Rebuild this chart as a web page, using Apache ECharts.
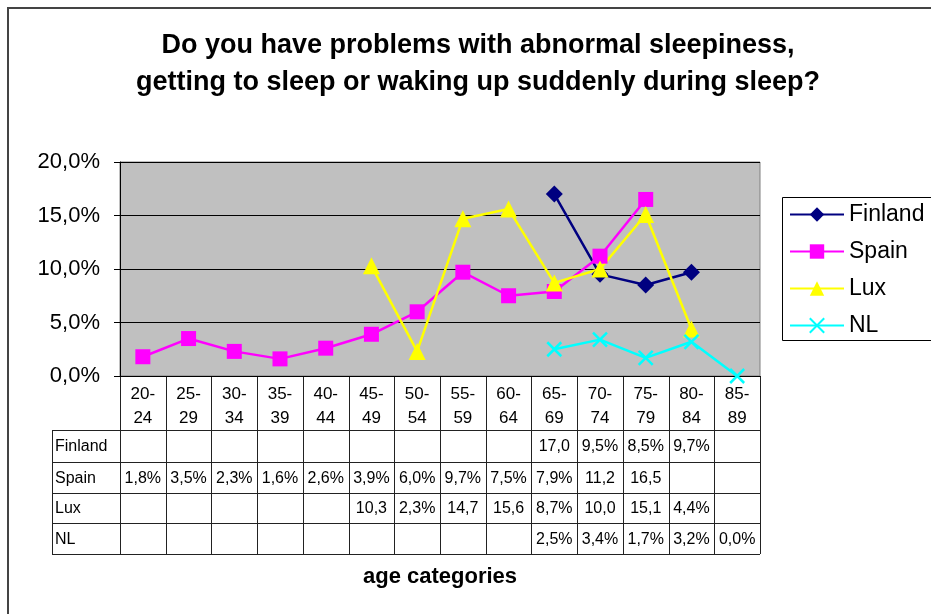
<!DOCTYPE html>
<html>
<head>
<meta charset="utf-8">
<script src="https://cdn.jsdelivr.net/npm/echarts@6/dist/echarts.min.js"></script>
<style>
  html, body { margin: 0; padding: 0; background: #fff; }
  #main { width: 931px; height: 614px; }
</style>
</head>
<body>
<div id="main"></div>
<script>
const categories = ['20-24', '25-29', '30-34', '35-39', '40-44', '45-49', '50-54',
  '55-59', '60-64', '65-69', '70-74', '75-79', '80-84', '85-89'];
const finland = [null, null, null, null, null, null, null, null, null, 17.0, 9.5, 8.5, 9.7, null];
const spain = [1.8, 3.5, 2.3, 1.6, 2.6, 3.9, 6.0, 9.7, 7.5, 7.9, 11.2, 16.5, null, null];
const lux = [null, null, null, null, null, 10.3, 2.3, 14.7, 15.6, 8.7, 10.0, 15.1, 4.4, null];
const nl = [null, null, null, null, null, null, null, null, null, 2.5, 3.4, 1.7, 3.2, 0.0];
const yTicks = [0, 5, 10, 15, 20];

const chartDom = document.getElementById('main');
const myChart = echarts.init(chartDom);

const font = 'Liberation Sans, Arial, sans-serif';

// table geometry (header row under the axis, then one row per series)
const tableTop = 376;
const headerBottom = 430;
const rowBottoms = [462, 493, 523, 554];
const labelLeft = 52;

const rows = [
  { name: 'Finland', data: finland },
  { name: 'Spain', data: spain },
  { name: 'Lux', data: lux },
  { name: 'NL', data: nl }
];

// Excel cuts the % off when the cell is too narrow
function cellText(v) {
  if (v == null) return '';
  const s = v.toFixed(1).replace('.', ',');
  return v >= 10 ? s : s + '%';
}

const crossPath = 'path://M0,0L10,10M10,0L0,10';

const option = {
  animation: false,
  backgroundColor: '#fff',
  textStyle: { fontFamily: font },
  title: {
    text: 'Do you have problems with abnormal sleepiness,\ngetting to sleep or waking up suddenly during sleep?',
    left: 473,
    textAlign: 'center',
    top: 22,
    textStyle: { fontSize: 27, fontWeight: 'bold', color: '#000', lineHeight: 37, fontFamily: font }
  },
  grid: {
    left: 120,
    top: 162,
    right: 171,
    bottom: 238,
    show: true,
    backgroundColor: '#C0C0C0',
    borderColor: '#808080',
    borderWidth: 1
  },
  legend: {
    orient: 'vertical',
    left: 789,
    top: 203,
    padding: 0,
    itemWidth: 54,
    itemHeight: 18,
    itemGap: 14,
    z: 10,
    textStyle: { fontSize: 23, color: '#000', lineHeight: 22, fontFamily: font },
    data: ['Finland', 'Spain', 'Lux', 'NL']
  },
  xAxis: {
    type: 'category',
    data: categories,
    boundaryGap: true,
    axisLine: { lineStyle: { color: '#000', width: 1 } },
    axisTick: { show: false },
    axisLabel: { show: false },
    splitLine: { show: false }
  },
  yAxis: {
    type: 'value',
    min: yTicks[0],
    max: yTicks[yTicks.length - 1],
    interval: 5,
    axisLine: { show: true, lineStyle: { color: '#000', width: 1 } },
    axisTick: { show: true, length: 6, lineStyle: { color: '#000' } },
    axisLabel: {
      fontSize: 22,
      color: '#000',
      margin: 20,
      fontFamily: font,
      formatter: v => v.toFixed(1).replace('.', ',') + '%'
    },
    splitLine: { show: true, lineStyle: { color: '#000', width: 1 } }
  },
  series: [
    {
      name: 'Finland',
      type: 'line',
      data: finland,
      symbol: 'diamond',
      symbolSize: 17,
      lineStyle: { color: '#000080', width: 2.5 },
      itemStyle: { color: '#000080' }
    },
    {
      name: 'Spain',
      type: 'line',
      data: spain,
      symbol: 'rect',
      symbolSize: 15,
      lineStyle: { color: '#FF00FF', width: 2.5 },
      itemStyle: { color: '#FF00FF' }
    },
    {
      name: 'Lux',
      type: 'line',
      data: lux,
      symbol: 'triangle',
      symbolSize: 17,
      lineStyle: { color: '#FFFF00', width: 2.5 },
      itemStyle: { color: '#FFFF00' }
    },
    {
      name: 'NL',
      type: 'line',
      data: nl,
      symbol: crossPath,
      symbolSize: 14,
      lineStyle: { color: '#00FFFF', width: 2.5 },
      itemStyle: { color: 'rgba(0,0,0,0)', borderColor: '#00FFFF', borderWidth: 2.5 }
    }
  ]
};

myChart.setOption(option);

// data table drawn from the axis positions
const c0 = myChart.convertToPixel({ xAxisIndex: 0 }, 0);
const c1 = myChart.convertToPixel({ xAxisIndex: 0 }, 1);
const band = c1 - c0;
const tableLeft = c0 - band / 2;
const tableRight = tableLeft + band * categories.length;
const lineStyle = { stroke: '#222', lineWidth: 1 };
const graphics = [];

// outer chart border
graphics.push({
  type: 'rect',
  shape: { x: 8, y: 8, width: 1000, height: 1000 },
  style: { fill: 'none', stroke: '#444', lineWidth: 2 },
  silent: true
});

// legend box
graphics.push({
  type: 'rect',
  shape: { x: 782.5, y: 197.5, width: 200, height: 143 },
  style: { fill: '#fff', stroke: '#000', lineWidth: 1 },
  z: 1,
  silent: true
});

// vertical lines
for (let k = 0; k <= categories.length; k++) {
  const x = Math.round(tableLeft + k * band) + 0.5;
  graphics.push({
    type: 'line',
    shape: { x1: x, y1: tableTop, x2: x, y2: rowBottoms[rowBottoms.length - 1] },
    style: lineStyle,
    silent: true
  });
}
graphics.push({
  type: 'line',
  shape: { x1: labelLeft + 0.5, y1: headerBottom, x2: labelLeft + 0.5, y2: rowBottoms[rowBottoms.length - 1] },
  style: lineStyle,
  silent: true
});

// horizontal lines
[headerBottom].concat(rowBottoms).forEach(y => {
  graphics.push({
    type: 'line',
    shape: { x1: labelLeft, y1: y + 0.5, x2: tableRight, y2: y + 0.5 },
    style: lineStyle,
    silent: true
  });
});

// header labels
categories.forEach((cat, i) => {
  const parts = cat.split('-');
  graphics.push({
    type: 'text',
    x: myChart.convertToPixel({ xAxisIndex: 0 }, i),
    y: (tableTop + headerBottom) / 2 + 3,
    style: {
      text: parts[0] + '-\n' + parts[1],
      fontSize: 17,
      lineHeight: 24,
      fontFamily: font,
      fill: '#000',
      align: 'center',
      verticalAlign: 'middle'
    },
    silent: true
  });
});

// row labels and values
rows.forEach((row, r) => {
  const top = r === 0 ? headerBottom : rowBottoms[r - 1];
  const yMid = (top + rowBottoms[r]) / 2 + 1;
  graphics.push({
    type: 'text',
    x: labelLeft + 3,
    y: yMid,
    style: { text: row.name, fontSize: 16, fontFamily: font, fill: '#000', align: 'left', verticalAlign: 'middle' },
    silent: true
  });
  row.data.forEach((v, i) => {
    if (v == null) return;
    graphics.push({
      type: 'text',
      x: myChart.convertToPixel({ xAxisIndex: 0 }, i),
      y: yMid,
      style: { text: cellText(v), fontSize: 16, fontFamily: font, fill: '#000', align: 'center', verticalAlign: 'middle' },
      silent: true
    });
  });
});

// x axis title
graphics.push({
  type: 'text',
  x: 440,
  y: 577,
  style: { text: 'age categories', fontSize: 22, fontWeight: 'bold', fontFamily: font, fill: '#000', align: 'center', verticalAlign: 'middle' },
  silent: true
});

myChart.setOption({ graphic: graphics });
</script>
</body>
</html>
